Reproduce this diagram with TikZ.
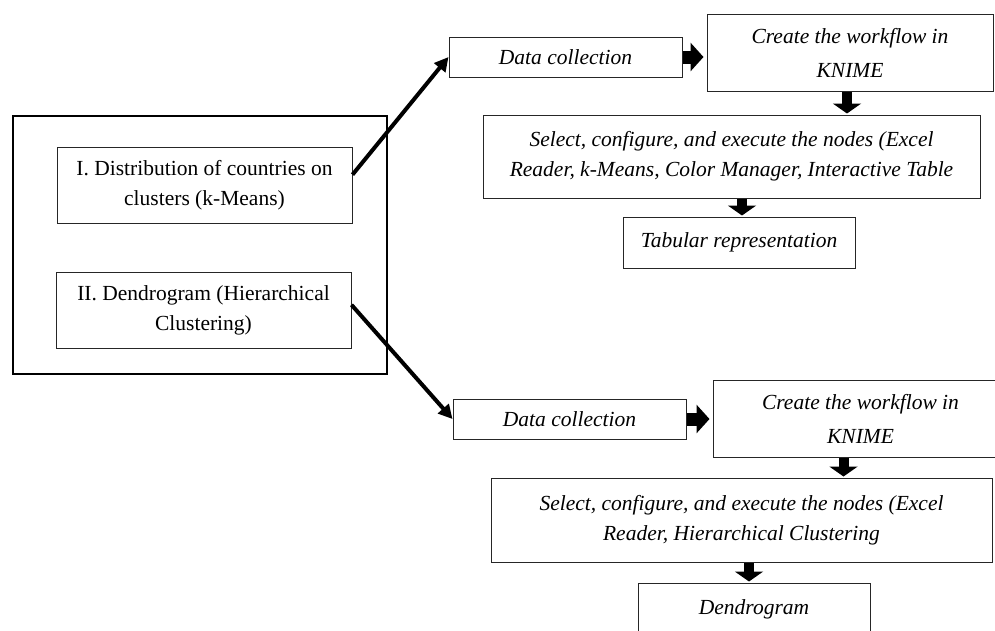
\documentclass[tikz,border=0pt]{standalone}
\usepackage{fontspec}
\setmainfont{Liberation Serif}
\usetikzlibrary{arrows.meta,calc}
\begin{document}
\begin{tikzpicture}[x=1pt,y=-1pt,
  box/.style={draw=black!85, line width=1pt, inner sep=0pt, align=center, font=\fontsize{21.5}{30}\selectfont},
  ibox/.style={box, font=\fontsize{21.5}{30}\selectfont\itshape},
  cbox/.style={box, font=\fontsize{21.5}{34}\selectfont\itshape},
  fatright/.style={line width=13pt, -{Triangle[length=13pt,width=28pt]}, shorten >=3pt},
  fatdown/.style={line width=10pt, -{Triangle[length=10pt,width=28pt]}, shorten >=1pt},
  diag/.style={line width=4pt, -{Triangle[length=14pt,width=14pt]}}
]
\useasboundingbox (0,0) rectangle (995,630);
% left group
\node[draw=black, line width=2.5pt, inner sep=0pt, minimum width=374pt, minimum height=258pt] (outer) at (200,245) {};
\node[box, minimum width=295pt, minimum height=76pt] (b1) at (204.5,185) {I. Distribution of countries on\\clusters (k-Means)};
\node[box, minimum width=295pt, minimum height=76pt] (b2) at (203.5,310) {II. Dendrogram (Hierarchical\\Clustering)};
% top flow
\node[ibox, minimum width=233pt, minimum height=40pt] (dc1) at (565.5,57) {Data collection};
\node[cbox, minimum width=286pt, minimum height=77pt] (cw1) at (850,52.5) {Create the workflow in\\KNIME};
\node[ibox, minimum width=497pt, minimum height=83pt] (sel1) at (731.5,156.5) {Select, configure, and execute the nodes (Excel\\Reader, k-Means, Color Manager, Interactive Table};
\node[ibox, minimum width=232pt, minimum height=51pt] (tab1) at (739,242.5) {Tabular representation};
% bottom flow
\node[ibox, minimum width=233pt, minimum height=40pt] (dc2) at (569.5,419) {Data collection};
\node[cbox, minimum width=295pt, minimum height=77pt] (cw2) at (860.5,418.5) {Create the workflow in\\KNIME};
\node[ibox, minimum width=501pt, minimum height=84pt] (sel2) at (741.5,520) {Select, configure, and execute the nodes (Excel\\Reader, Hierarchical Clustering};
\node[ibox, minimum width=232pt, minimum height=52pt] (den2) at (754,609) {Dendrogram};
% connectors
\draw[diag] (b1.4) -- (dc1.west);
\draw[diag] (b2.2) -- (dc2.west);
\draw[fatright] (dc1.east) -- (dc1.east -| cw1.west);
\draw[fatright] (dc2.east) -- (dc2.east -| cw2.west);
\draw[fatdown] ([xshift=-3pt]cw1.south) -- ([xshift=-3pt]cw1.south |- sel1.north);
\draw[fatdown] ([xshift=3pt]tab1.north |- sel1.south) -- ([xshift=3pt]tab1.north);
\draw[fatdown] ([xshift=-17pt]cw2.south) -- ([xshift=-17pt]cw2.south |- sel2.north);
\draw[fatdown] ([xshift=-5pt]den2.north |- sel2.south) -- ([xshift=-5pt]den2.north);
\end{tikzpicture}
\end{document}
